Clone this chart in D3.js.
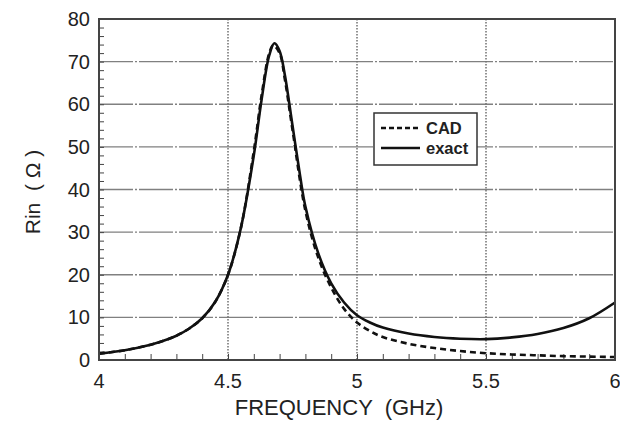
<!DOCTYPE html>
<html>
<head>
<meta charset="utf-8">
<script src="https://cdn.jsdelivr.net/npm/d3@7.9.0/dist/d3.min.js"></script>
<style>
  body { margin: 0; background: #fff; }
  text { font-family: "Liberation Sans", Arial, sans-serif; fill: #222; }
</style>
</head>
<body>
<svg id="chart" width="620" height="436"></svg>
<script>
// Data
const freqExact = [4.0, 4.1, 4.2, 4.25, 4.3, 4.35, 4.4, 4.45, 4.5, 4.55, 4.6, 4.63, 4.66, 4.68, 4.7, 4.72, 4.75, 4.78, 4.8, 4.85, 4.9, 4.95, 5.0, 5.05, 5.1, 5.2, 5.3, 5.4, 5.5, 5.6, 5.7, 5.8, 5.9, 6.0];
const rinExact  = [1.5, 2.3, 3.6, 4.5, 5.7, 7.4, 9.8, 13.6, 20, 31, 48, 61, 71.5, 74.3, 72.5, 67, 55, 43, 36, 25, 18, 13.5, 10.5, 8.8, 7.6, 6.2, 5.4, 5.0, 4.9, 5.3, 6.1, 7.5, 9.8, 13.5];

const freqCAD = [4.0, 4.1, 4.2, 4.25, 4.3, 4.35, 4.4, 4.45, 4.5, 4.55, 4.6, 4.63, 4.66, 4.675, 4.7, 4.72, 4.75, 4.8, 4.85, 4.9, 4.95, 5.0, 5.05, 5.1, 5.2, 5.3, 5.4, 5.5, 5.6, 5.7, 5.8, 5.9, 6.0];
const rinCAD  = [1.5, 2.3, 3.6, 4.5, 5.7, 7.4, 9.8, 13.6, 20, 31, 49, 62, 72, 73.8, 72, 66, 54, 35, 24, 17, 12, 8.8, 6.8, 5.4, 3.8, 2.8, 2.1, 1.6, 1.3, 1.1, 0.9, 0.8, 0.7];

const xTicks = [4, 4.5, 5, 5.5, 6];
const xTickLabels = ["4", "4.5", "5", "5.5", "6"];
const yTicks = [0, 10, 20, 30, 40, 50, 60, 70, 80];

const svg = d3.select("#chart");
const mLeft = 99, mRight = 615, mTop = 19, mBottom = 360;

const x = d3.scaleLinear().domain([4, 6]).range([mLeft, mRight]);
const y = d3.scaleLinear().domain([0, 80]).range([mBottom, mTop]);

// Grid lines
svg.append("g")
  .selectAll("line")
  .data(yTicks.slice(1, -1))
  .join("line")
  .attr("x1", mLeft).attr("x2", mRight)
  .attr("y1", d => y(d)).attr("y2", d => y(d))
  .attr("stroke", "#808080")
  .attr("stroke-width", 1.4)
  .attr("stroke-dasharray", "34 2 2 2");

svg.append("g")
  .selectAll("line")
  .data(xTicks.slice(1, -1))
  .join("line")
  .attr("x1", d => x(d)).attr("x2", d => x(d))
  .attr("y1", mTop).attr("y2", mBottom)
  .attr("stroke", "#707070")
  .attr("stroke-width", 1.5)
  .attr("stroke-dasharray", "1.5 1.5");

// Axes with inward ticks
const xAxis = d3.axisBottom(x).tickValues(d3.range(4, 6.001, 0.1)).tickSize(-6).tickFormat("");
svg.append("g").attr("transform", `translate(0,${mBottom})`).call(xAxis)
  .call(g => g.select(".domain").remove())
  .call(g => g.selectAll("line").attr("stroke", "#444").attr("stroke-width", 1));

const yAxis = d3.axisLeft(y).tickValues(d3.range(0, 80.001, 2)).tickSize(-5).tickFormat("");
svg.append("g").attr("transform", `translate(${mLeft},0)`).call(yAxis)
  .call(g => g.select(".domain").remove())
  .call(g => g.selectAll("line").attr("stroke", "#444").attr("stroke-width", 1));

// Tick labels
svg.append("g")
  .selectAll("text")
  .data(xTicks)
  .join("text")
  .attr("x", d => x(d))
  .attr("y", mBottom + 28)
  .attr("text-anchor", "middle")
  .attr("font-size", 20)
  .text((d, i) => xTickLabels[i]);

svg.append("g")
  .selectAll("text")
  .data(yTicks)
  .join("text")
  .attr("x", mLeft - 9)
  .attr("y", d => y(d) + 7)
  .attr("text-anchor", "end")
  .attr("font-size", 20)
  .text(d => d);

// Curves
const line = d3.line().curve(d3.curveCatmullRom.alpha(0.5));

svg.append("path")
  .datum(freqCAD.map((f, i) => [x(f), y(rinCAD[i])]))
  .attr("d", line)
  .attr("fill", "none")
  .attr("stroke", "#111")
  .attr("stroke-width", 2.6)
  .attr("stroke-dasharray", "6 4");

svg.append("path")
  .datum(freqExact.map((f, i) => [x(f), y(rinExact[i])]))
  .attr("d", line)
  .attr("fill", "none")
  .attr("stroke", "#111")
  .attr("stroke-width", 2.6);

// Frame
svg.append("rect")
  .attr("x", mLeft).attr("y", mTop)
  .attr("width", mRight - mLeft).attr("height", mBottom - mTop)
  .attr("fill", "none")
  .attr("stroke", "#444")
  .attr("stroke-width", 2);

// Legend
const legend = svg.append("g");
legend.append("rect")
  .attr("x", 374).attr("y", 113)
  .attr("width", 103).attr("height", 52)
  .attr("fill", "#fff")
  .attr("stroke", "#333")
  .attr("stroke-width", 1.5);
legend.append("line")
  .attr("x1", 381).attr("x2", 420).attr("y1", 128).attr("y2", 128)
  .attr("stroke", "#111").attr("stroke-width", 2.5).attr("stroke-dasharray", "5 3");
legend.append("line")
  .attr("x1", 381).attr("x2", 420).attr("y1", 148).attr("y2", 148)
  .attr("stroke", "#111").attr("stroke-width", 2.6);
legend.append("text").attr("x", 426).attr("y", 134)
  .attr("font-size", 16.5).attr("font-weight", "bold").text("CAD");
legend.append("text").attr("x", 426).attr("y", 154)
  .attr("font-size", 16.5).attr("font-weight", "bold").text("exact");

// Axis titles
svg.append("text")
  .attr("x", 339).attr("y", 415)
  .attr("text-anchor", "middle")
  .attr("font-size", 22)
  .style("white-space", "pre")
  .text("FREQUENCY  (GHz)");

svg.append("text")
  .attr("transform", "translate(40,192) rotate(-90)")
  .attr("text-anchor", "middle")
  .attr("font-size", 21)
  .style("white-space", "pre")
  .text("Rin  ( Ω )");
</script>
</body>
</html>
